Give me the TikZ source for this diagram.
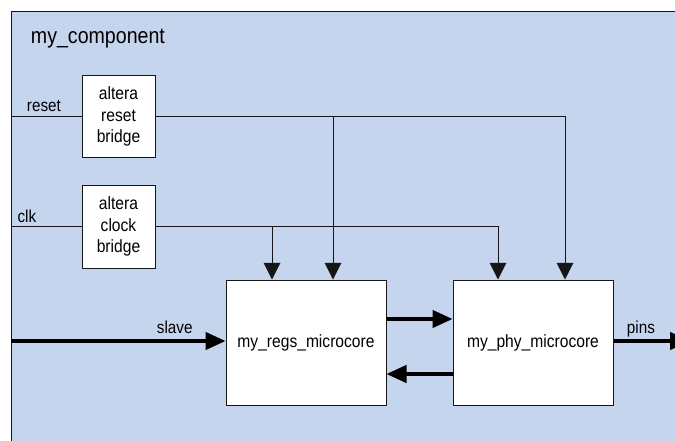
\documentclass[tikz,border=0pt]{standalone}
\usepackage{fontspec}
\setmainfont{Liberation Sans}[FakeStretch=0.88]
\usetikzlibrary{arrows.meta,calc}

\definecolor{compfill}{RGB}{198,213,238}
\definecolor{wire}{RGB}{22,22,22}

\tikzset{
  block/.style={draw=wire,fill=white,line width=0.75pt,inner sep=0pt,align=center,font=\fontsize{13.3}{16.3}\selectfont},
  sig/.style={draw=wire,line width=0.75pt},
  sigarrow/.style={sig,-{Triangle[width=12.5pt,length=12.5pt]}},
  bus/.style={draw=black,line width=2.6pt,-{Triangle[width=13pt,length=15pt]}},
  lbl/.style={anchor=base west,inner sep=0pt,font=\fontsize{13}{15}\selectfont},
}

\begin{document}
\begin{tikzpicture}[x=0.75pt,y=0.75pt,yscale=-1,xscale=1]
\clip (0,0) rectangle (675,440);

% component frame
\fill[compfill] (11,11) rectangle (690,450);
\draw[wire,line width=0.75pt] (11,450) -- (11,11) -- (690,11);
\node[lbl,font=\fontsize{16.7}{20}\selectfont] (title) at (30.7,43.3) {my\_component};

% blocks
\node[block,minimum width=54.75pt,minimum height=61.5pt] (rstbr) at (118.5,116.5) {altera\\reset\\bridge};
\node[block,minimum width=54.75pt,minimum height=62.25pt] (clkbr) at (118.5,226.5) {altera\\clock\\bridge};
\node[block,minimum width=120pt,minimum height=93.75pt] (regs) at (306,342.5) {my\_regs\_microcore};
\node[block,minimum width=120pt,minimum height=93.75pt] (phy) at (533,342.5) {my\_phy\_microcore};

% ports
\coordinate (rstin) at (11,116.5);
\coordinate (clkin) at (11,226.5);
\coordinate (slavein) at (11,341);
\coordinate (pinsout) at (690,341);
\coordinate (regsclk) at ($(regs.north)+(-34,0)$);
\coordinate (regsrst) at ($(regs.north)+(27,0)$);
\coordinate (phyclk) at ($(phy.north)+(-35,0)$);
\coordinate (phyrst) at ($(phy.north)+(32,0)$);

% reset
\draw[sig] (rstin) -- (rstbr.west);
\node[lbl] (rstlbl) at (26.7,111.7) {reset};
\draw[sigarrow] (rstbr.east) -| (phyrst);
\draw[sigarrow] (regsrst |- rstbr.east) -- (regsrst);

% clock
\draw[sig] (clkin) -- (clkbr.west);
\node[lbl] (clklbl) at (17.3,222) {clk};
\draw[sigarrow] (clkbr.east) -| (phyclk);
\draw[sigarrow] (regsclk |- clkbr.east) -- (regsclk);

% data
\draw[bus] (slavein) -- (slavein -| regs.west);
\node[lbl] (slavelbl) at (156.7,333.3) {slave};
\draw[bus] ($(regs.east)+(0,-23.5)$) -- ($(phy.west)+(0,-23.5)$);
\draw[bus] ($(phy.west)+(0,31.5)$) -- ($(regs.east)+(0,31.5)$);
\draw[bus] (pinsout -| phy.east) -- (pinsout);
\node[lbl] (pinslbl) at (626.7,333.3) {pins};
\end{tikzpicture}
\end{document}
